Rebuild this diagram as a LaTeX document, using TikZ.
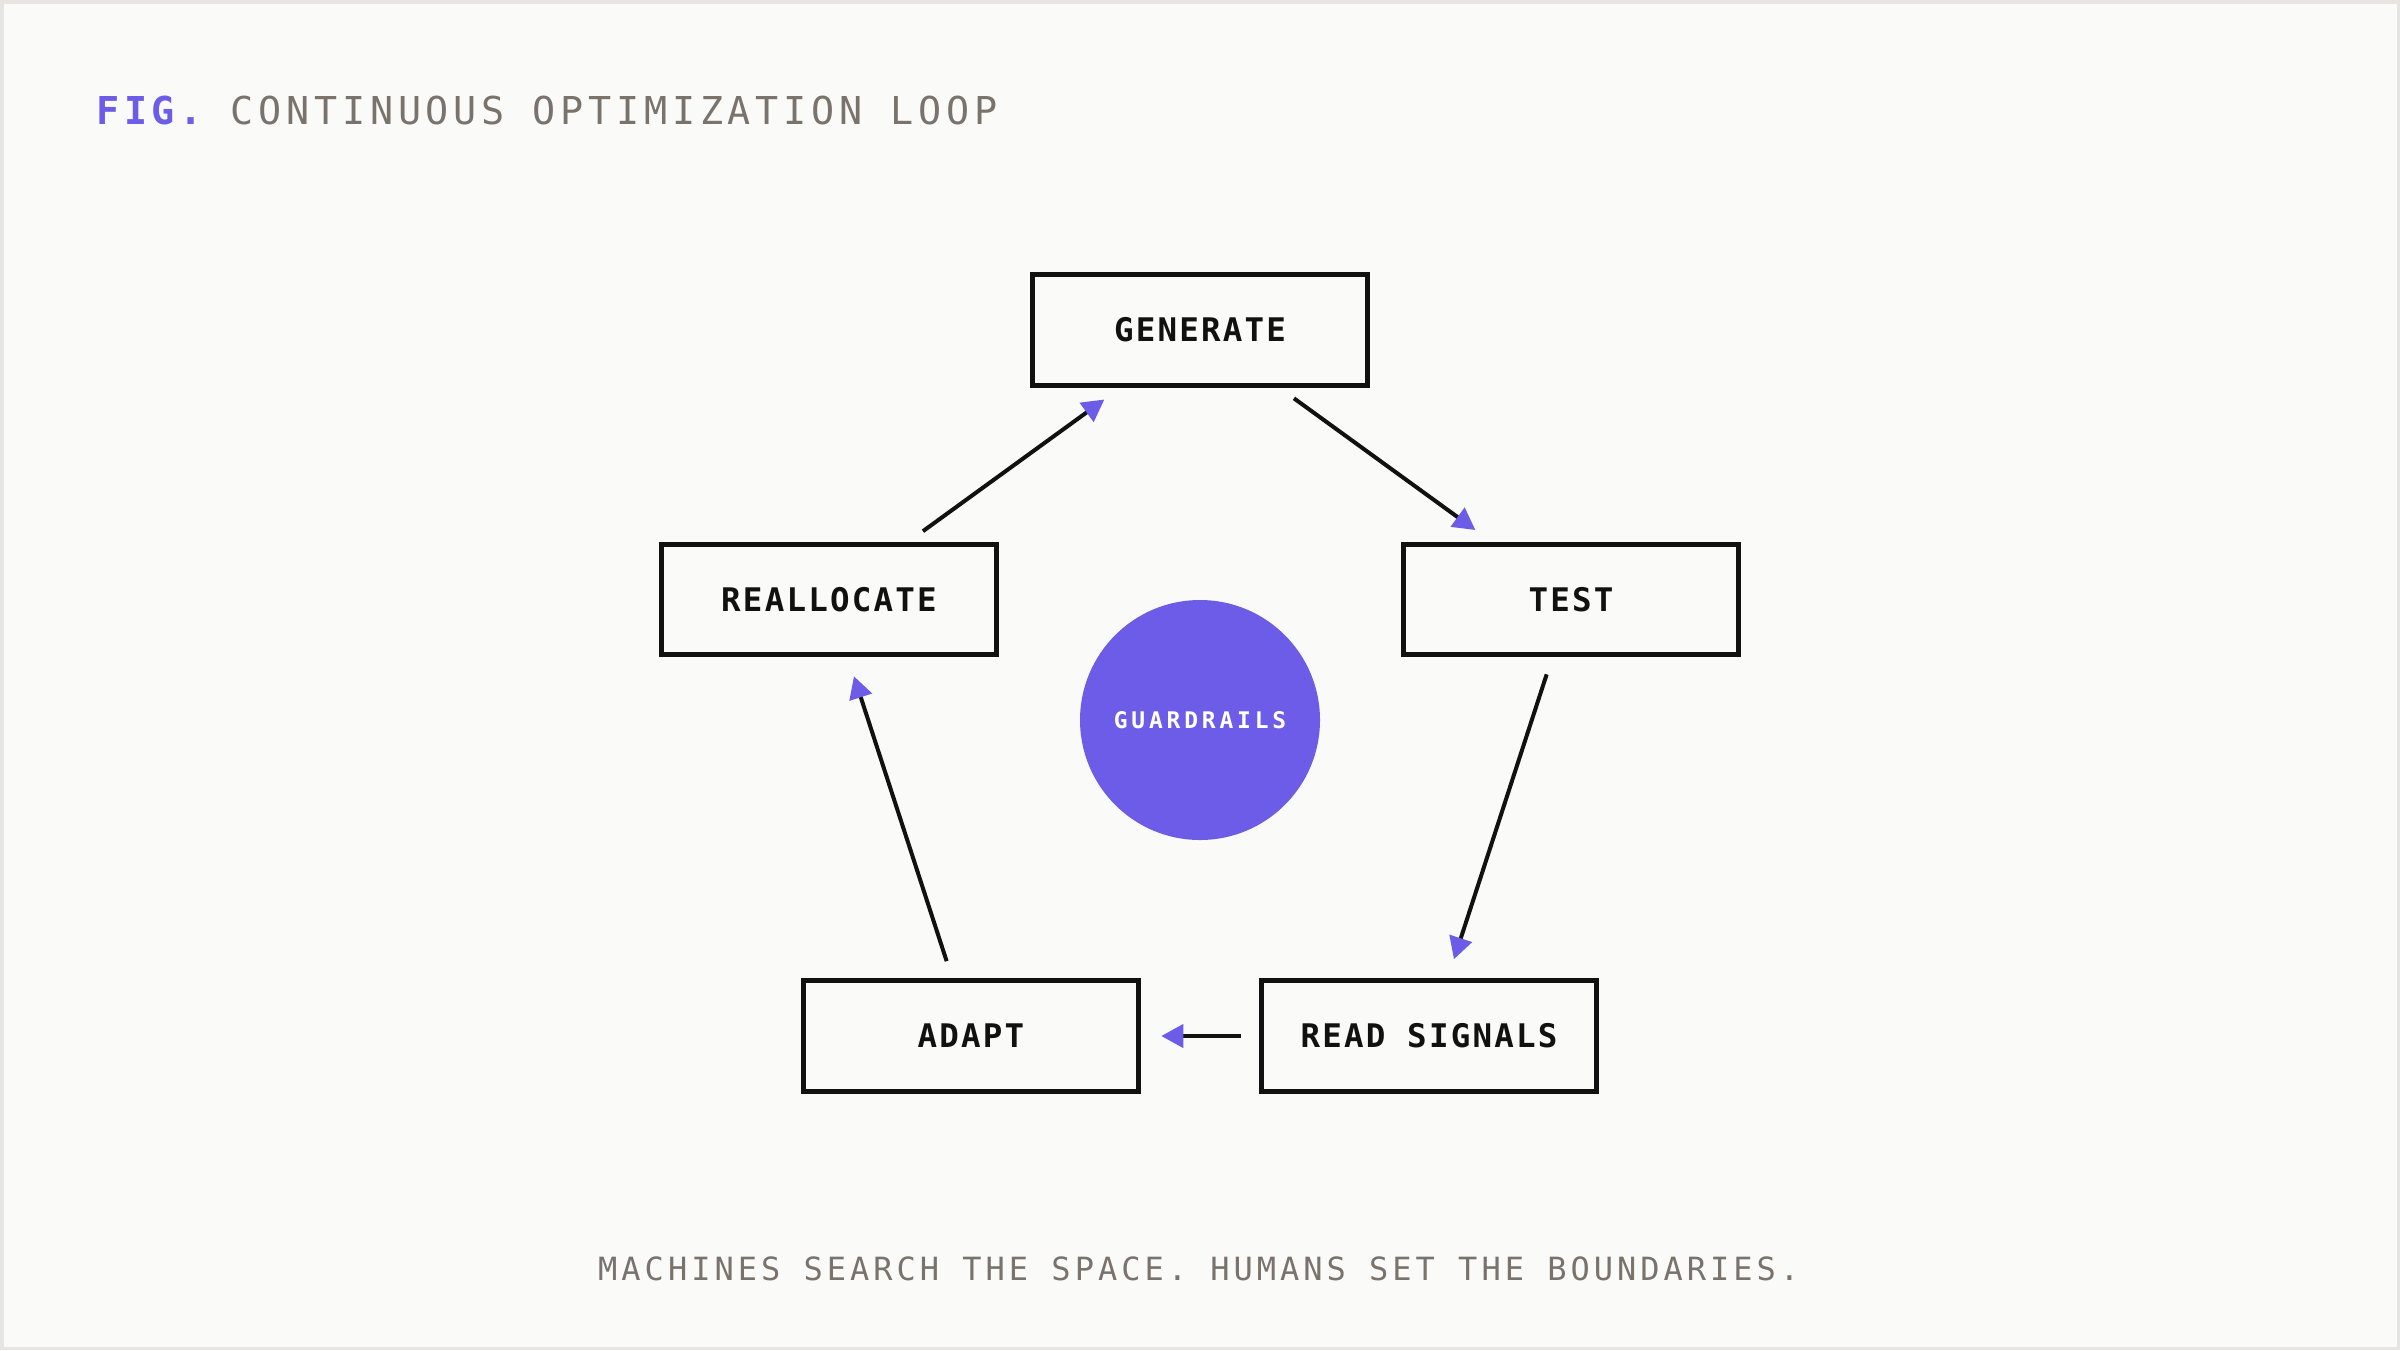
\documentclass[tikz,border=0pt]{standalone}
\usepackage{fontspec}
\usetikzlibrary{arrows.meta}
\newfontfamily\mono{DejaVu Sans Mono}
\definecolor{accent}{HTML}{6C5CE7}
\definecolor{inkgray}{HTML}{7A736C}
\definecolor{ink}{HTML}{111111}
\definecolor{paper}{HTML}{FAFAF8}
\definecolor{framegray}{HTML}{E6E5E2}
\begin{document}
\begin{tikzpicture}[x=1pt,y=-1pt,
  stepbox/.style={draw=ink, line width=5pt, minimum width=335.5pt, minimum height=110.5pt, inner sep=0pt, text=ink,
    font={\mono\bfseries\addfontfeatures{LetterSpace=6.8}\fontsize{32.5pt}{34pt}\selectfont}},
  guard/.style={circle, fill=accent, minimum size=240pt, inner sep=0pt, text=white,
    font={\mono\bfseries\addfontfeatures{LetterSpace=16.8}\fontsize{22.9pt}{24pt}\selectfont}},
  flow/.style={draw=ink, line width=4pt, shorten <=18pt, shorten >=20pt,
    -{Triangle[length=22pt,width=23pt,color=accent,fill=accent]}},
  titletext/.style={anchor=base west, inner sep=0pt, text=inkgray,
    font={\mono\addfontfeatures{LetterSpace=12.4}\fontsize{38.4pt}{40pt}\selectfont}},
  foottext/.style={anchor=base west, inner sep=0pt, text=inkgray,
    font={\mono\addfontfeatures{LetterSpace=12.5}\fontsize{32pt}{34pt}\selectfont}}
]
\fill[framegray] (0,0) rectangle (2400,1350);
\fill[paper] (3.5,3.5) rectangle (2396.5,1346.5);
\useasboundingbox (0,0) rectangle (2400,1350);

\node[titletext] (title) at (96,124) {{\color{accent}\bfseries FIG.} CONTINUOUS OPTIMIZATION LOOP};

\node[stepbox] (gen) at (1200,330) {GENERATE};
\node[stepbox] (test) at (1571,599.5) {TEST};
\node[stepbox] (read) at (1429,1036) {READ SIGNALS};
\node[stepbox] (adapt) at (971,1036) {ADAPT};
\node[stepbox] (realloc) at (829,599.5) {REALLOCATE};

\node[guard] (guard) at (1200,720) {GUARDRAILS};

\draw[flow] (gen) -- (test);
\draw[flow] (test) -- (read);
\draw[flow] (read) -- (adapt);
\draw[flow] (adapt) -- (realloc);
\draw[flow] (realloc) -- (gen);

\node[foottext] (foot) at (598,1280) {MACHINES SEARCH THE SPACE. HUMANS SET THE BOUNDARIES.};
\end{tikzpicture}
\end{document}
